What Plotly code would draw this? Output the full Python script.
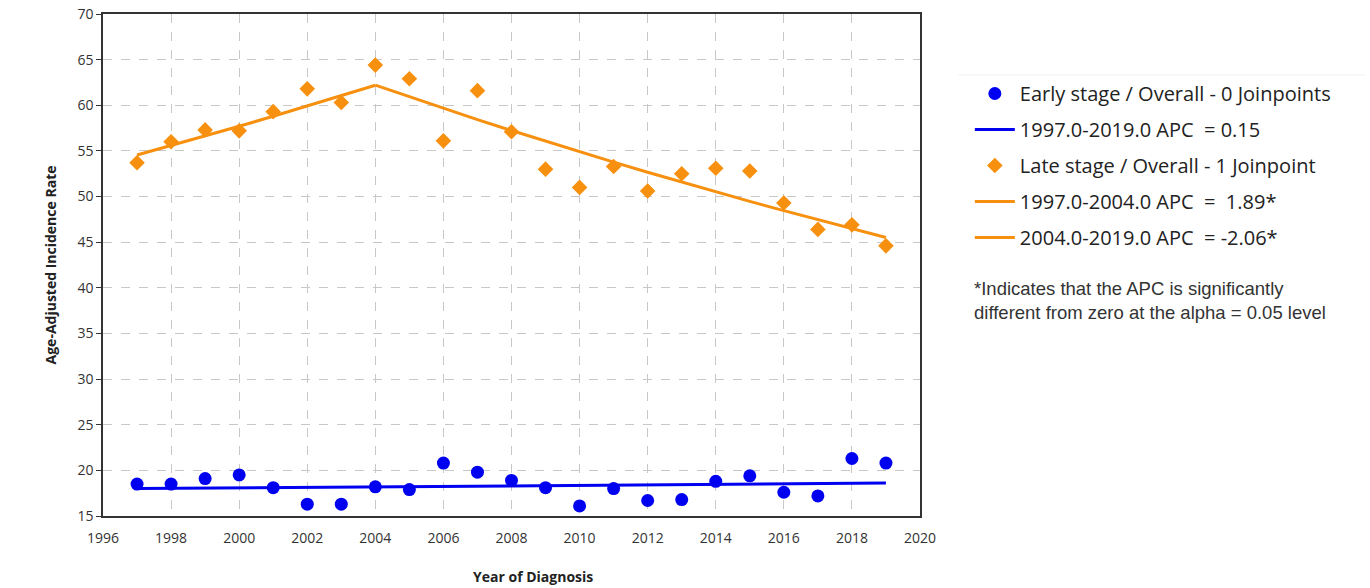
import plotly.graph_objects as go

# Observed age-adjusted incidence rates by year of diagnosis
years = list(range(1997, 2020))
early_rate = [18.5, 18.5, 19.1, 19.5, 18.1, 16.3, 16.3, 18.2, 17.9, 20.8, 19.8, 18.9,
              18.1, 16.1, 18.0, 16.7, 16.8, 18.8, 19.4, 17.6, 17.2, 21.3, 20.8]
late_rate = [53.7, 56.0, 57.3, 57.2, 59.3, 61.8, 60.3, 64.4, 62.9, 56.1, 61.6, 57.1,
             53.0, 51.0, 53.3, 50.6, 52.5, 53.1, 52.8, 49.3, 46.4, 46.9, 44.6]

# Joinpoint segments: (start year, end year, modelled value at start, APC %)
early_segments = [(1997, 2019, 18.0, 0.15)]
late_segments = [(1997, 2004, 54.55, 1.89), (2004, 2019, 62.2, -2.06)]

early_labels = ["1997.0-2019.0 APC  = 0.15"]
late_labels = ["1997.0-2004.0 APC  =  1.89*", "2004.0-2019.0 APC  = -2.06*"]

BLUE = "#0000F0"
ORANGE = "#F7900F"
FONT = "Open Sans, Noto Sans, sans-serif"


def segment_curve(start, end, base, apc):
    xs = list(range(start, end + 1))
    ys = [base * (1 + apc / 100.0) ** (x - start) for x in xs]
    return xs, ys


fig = go.Figure()

fig.add_trace(go.Scatter(
    x=years, y=early_rate, mode="markers", name="Early stage / Overall - 0 Joinpoints",
    marker=dict(symbol="circle", size=13, color=BLUE), legendgroup="a",
))
for (s, e, b, apc), lab in zip(early_segments, early_labels):
    xs, ys = segment_curve(s, e, b, apc)
    fig.add_trace(go.Scatter(x=xs, y=ys, mode="lines", name=lab,
                             line=dict(color=BLUE, width=3), legendgroup="b"))

fig.add_trace(go.Scatter(
    x=years, y=late_rate, mode="markers", name="Late stage / Overall - 1 Joinpoint",
    marker=dict(symbol="diamond", size=12, color=ORANGE), legendgroup="c",
))
for i, ((s, e, b, apc), lab) in enumerate(zip(late_segments, late_labels)):
    xs, ys = segment_curve(s, e, b, apc)
    fig.add_trace(go.Scatter(x=xs, y=ys, mode="lines", name=lab,
                             line=dict(color=ORANGE, width=3), legendgroup="d%d" % i))

axis_common = dict(
    showline=True, linecolor="#333333", linewidth=1.5, mirror=True,
    showgrid=True, gridcolor="#C8C8C8", griddash="dash", gridwidth=1,
    zeroline=False, automargin=False,
    tickfont=dict(family=FONT, size=14, color="#333333"),
)

fig.update_xaxes(
    range=[1996, 2020], dtick=2, tick0=1996, ticks="", ticklabelstandoff=8,
    **axis_common,
)
fig.update_yaxes(
    range=[15, 70], dtick=5, ticks="outside", ticklen=5, tickcolor="#333333",
    title=dict(text="<b>Age-Adjusted Incidence Rate</b>",
               font=dict(family=FONT, size=14, color="#222222"), standoff=18),
    **axis_common,
)

# X-axis title
fig.add_annotation(
    xref="paper", yref="paper", x=0.526, y=0, yshift=-60,
    xanchor="center", yanchor="middle", showarrow=False,
    text="<b>Year of Diagnosis</b>",
    font=dict(family=FONT, size=14, color="#222222"),
)

# Significance footnote beside the legend
fig.add_annotation(
    xref="paper", yref="paper", x=1.0, y=1.0, xshift=52, yshift=-262,
    xanchor="left", yanchor="top", align="left", showarrow=False,
    text="*Indicates that the APC is significantly<br>different from zero at the alpha = 0.05 level",
    font=dict(family="Liberation Sans, Arial, sans-serif", size=18.5, color="#333333"),
)

# Faint rule above the legend block
fig.add_shape(type="line", xref="paper", yref="paper",
              x0=1.047, x1=1.545, y0=0.8785, y1=0.8785,
              line=dict(color="#F0F0F0", width=1))

fig.update_layout(
    width=1370, height=588,
    margin=dict(l=103, r=450, t=14, b=72, autoexpand=False),
    paper_bgcolor="white", plot_bgcolor="white",
    showlegend=True,
    legend=dict(
        x=1.061, y=0.8805, xref="paper", yref="paper", xanchor="left", yanchor="top",
        font=dict(family=FONT, size=20, color="#222222"),
        traceorder="grouped", tracegroupgap=7, itemwidth=40,
        bgcolor="rgba(0,0,0,0)",
    ),
)

fig.write_html("out.html")
